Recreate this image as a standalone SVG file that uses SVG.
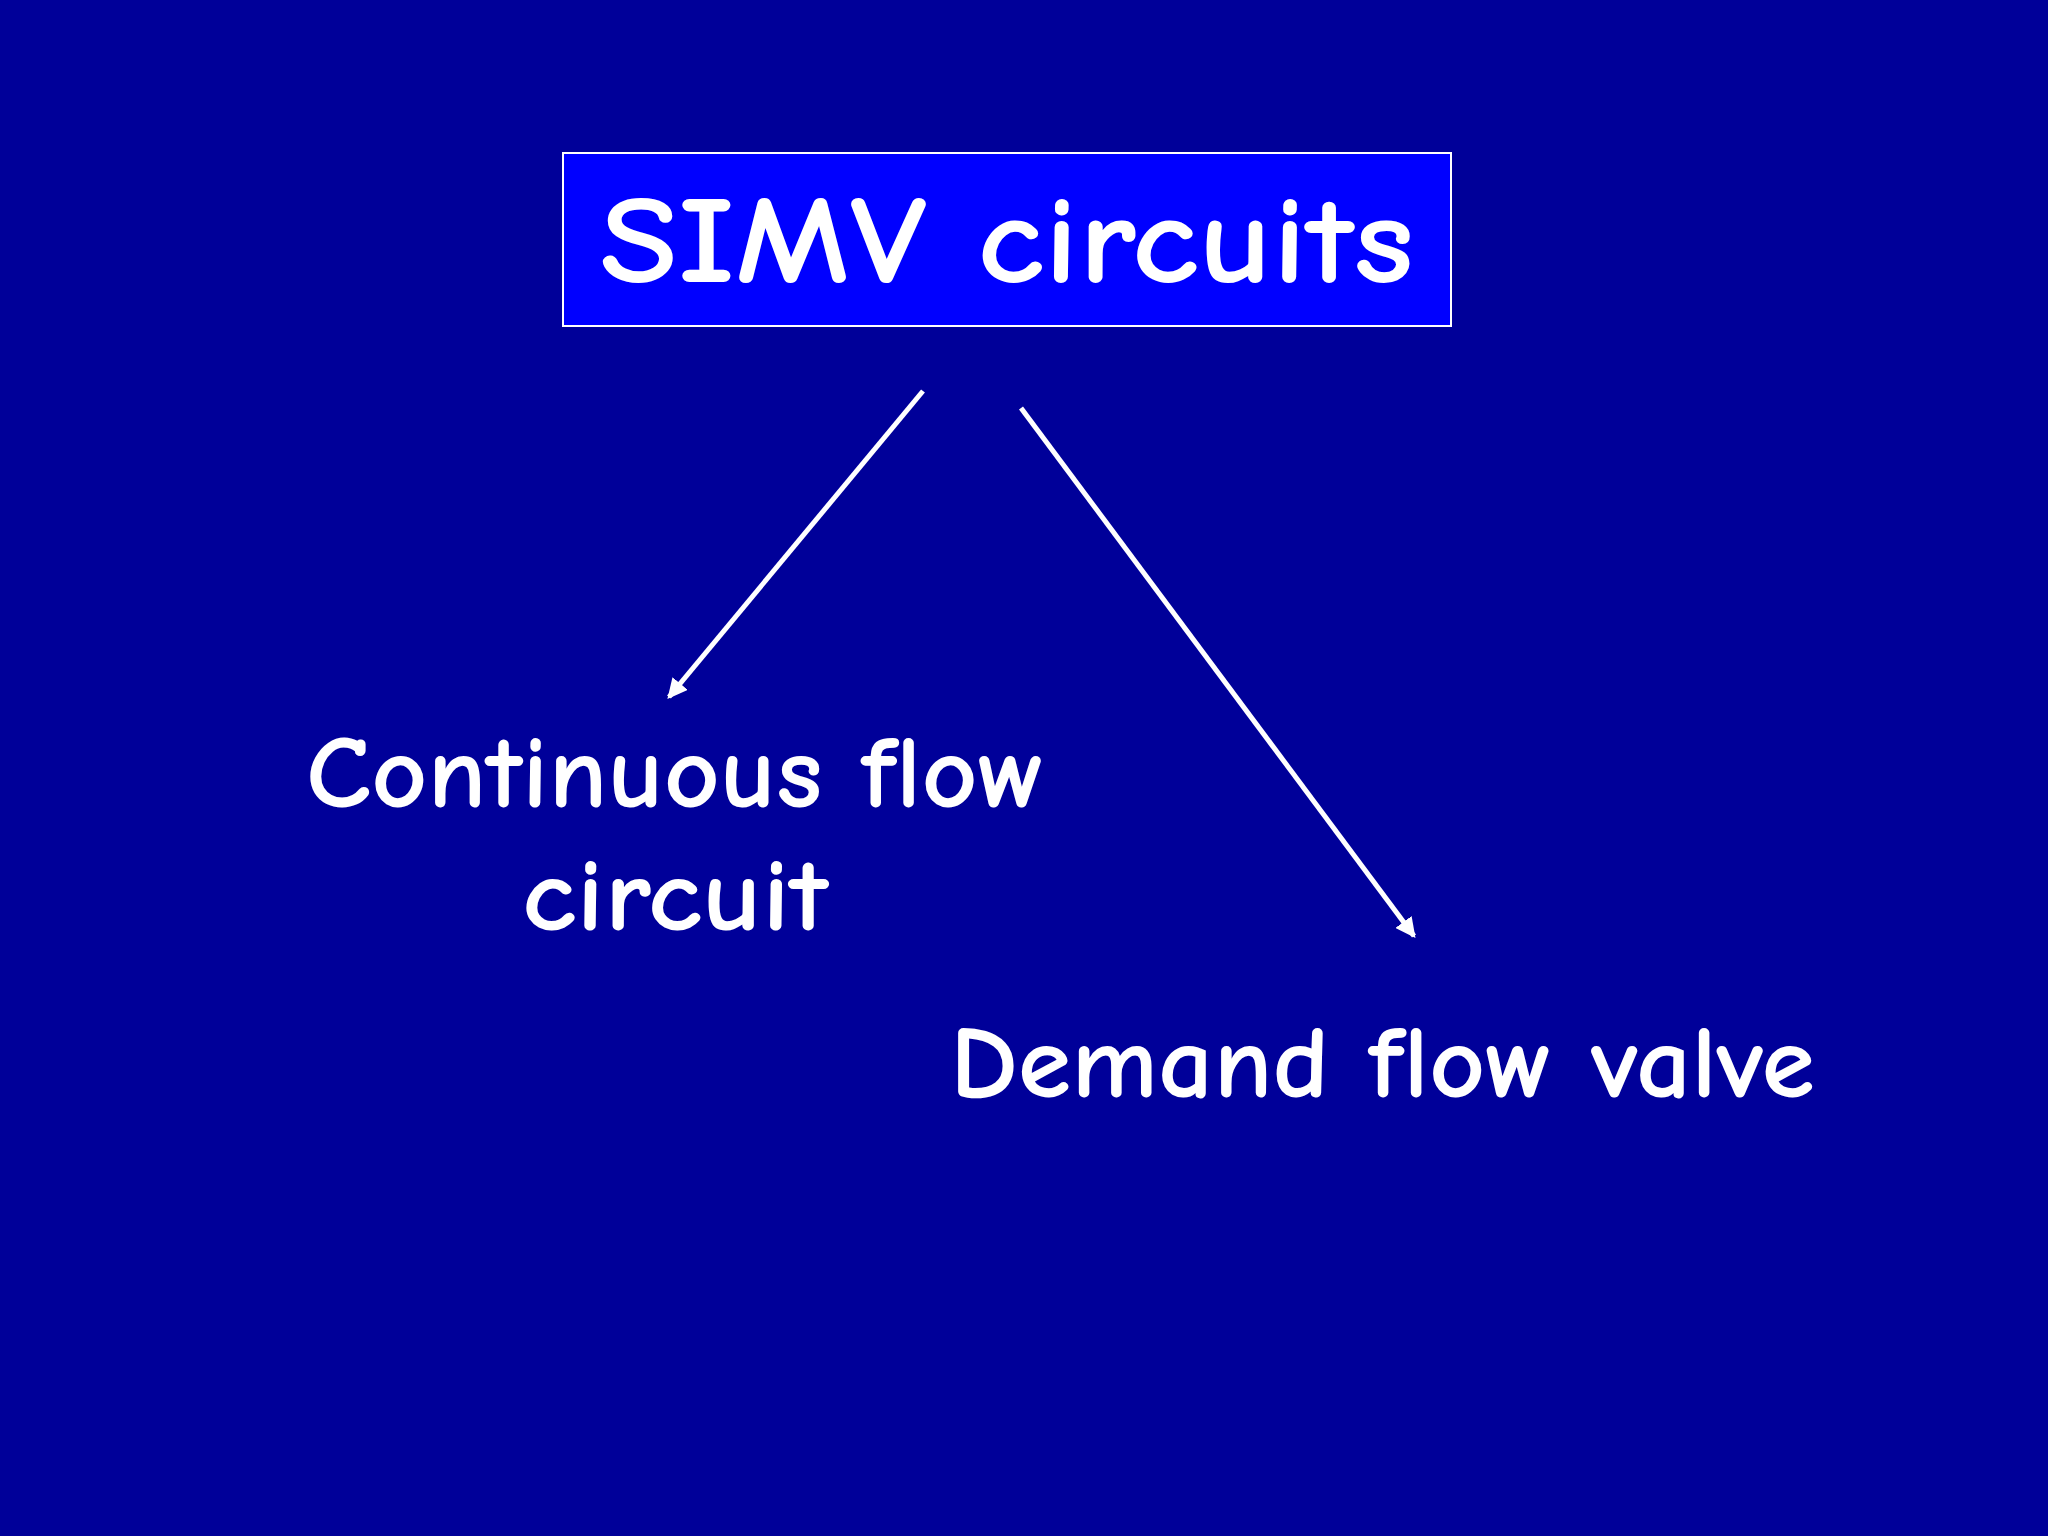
<svg xmlns="http://www.w3.org/2000/svg" width="2048" height="1536" viewBox="0 0 2048 1536">
<style>
text{font-family:"Comic Neue","Liberation Sans",sans-serif;font-weight:bold;fill:#fff}
.c{stroke:#fff;stroke-width:5;fill:none;marker-end:url(#a)}
</style>
<defs><marker id="a" markerWidth="4" markerHeight="4" refX="3.5" refY="2" orient="auto" markerUnits="strokeWidth"><path d="M0,0L4,2L0,4z" fill="#fff"/></marker></defs>
<rect width="2048" height="1536" fill="#000099"/>
<g id="title"><rect x="563" y="153" width="888" height="173" fill="#0000FF" stroke="#fff" stroke-width="2"/>
<text x="1007" y="282" font-size="124" text-anchor="middle" textLength="814" lengthAdjust="spacingAndGlyphs">SIMV circuits</text></g>
<g id="continuous"><text x="306" y="807" font-size="104" textLength="739" lengthAdjust="spacingAndGlyphs">Continuous flow</text>
<text x="522" y="930" font-size="104" textLength="306" lengthAdjust="spacingAndGlyphs">circuit</text></g>
<g id="demand"><text x="950" y="1097" font-size="104" textLength="865" lengthAdjust="spacingAndGlyphs">Demand flow valve</text></g>
<g id="connectors"><line class="c" x1="923" y1="391" x2="669" y2="697"/><line class="c" x1="1021" y1="408" x2="1414" y2="936"/></g>
</svg>
